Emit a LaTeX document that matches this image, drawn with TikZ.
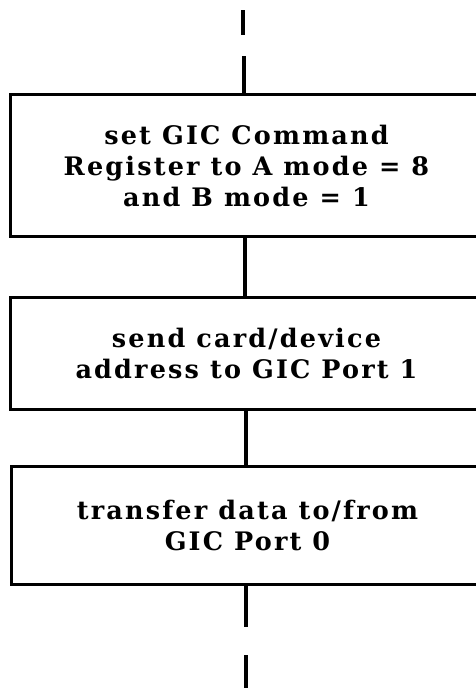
\documentclass[tikz,border=0pt]{standalone}
\usepackage{fontspec}
\setmainfont{DejaVu Serif}[LetterSpace=8.5]
\begin{document}
\begin{tikzpicture}[x=1pt,y=-1pt,
  flowbox/.style={draw,line width=3pt,minimum width=472pt,anchor=north west,
    inner sep=0pt,align=center,font=\fontsize{25.5}{31}\selectfont\bfseries},
  flowline/.style={line width=3.5pt}]
  \useasboundingbox (0,0) rectangle (476,688);
  \clip (0,0) rectangle (476,688);
  % process steps
  \node[flowbox,minimum height=142pt] (b1) at (9,93)
    {set GIC Command\\Register to A mode = 8\\and B mode = 1};
  \node[flowbox,minimum height=112pt] (b2) at (9,296)
    {send card/device\\address to GIC Port 1};
  \node[flowbox,minimum height=118pt] (b3) at (10,465)
    {transfer data to/from\\GIC Port 0};
  % connector ends above and below
  \coordinate (t1) at (243,10);
  \coordinate (t2) at (243,35);
  \coordinate (t3) at (244,56);
  \coordinate (u1) at (246,627);
  \coordinate (u2) at (246,655);
  \coordinate (u3) at (246,690);
  \draw[flowline] (t1) -- (t2);
  \draw[flowline] (t3) -- (t3 |- b1.north);
  \draw[flowline] (b1.south -| 245,0) -- (b2.north -| 245,0);
  \draw[flowline] (b2.south -| 246,0) -- (b3.north -| 246,0);
  \draw[flowline] (b3.south -| u1) -- (u1);
  \draw[flowline] (u2) -- (u3);
\end{tikzpicture}
\end{document}
